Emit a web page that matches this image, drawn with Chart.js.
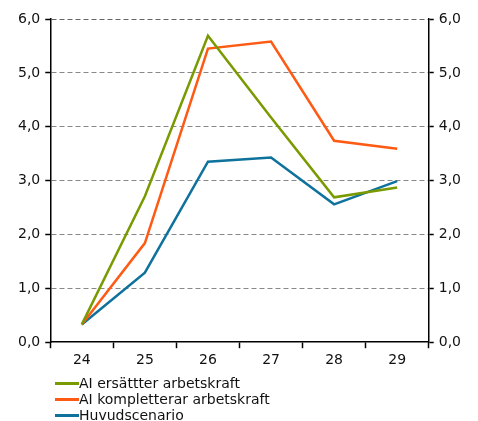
<!DOCTYPE html>
<html><head><meta charset="utf-8">
<script src="https://cdn.jsdelivr.net/npm/chart.js@4/dist/chart.umd.min.js"></script>
<style>
html,body{margin:0;padding:0;background:#fff;}
#wrap{position:relative;width:478px;height:421px;}
#c{position:absolute;left:0;top:0;}
#legend{position:absolute;left:55px;top:375px;font-family:"DejaVu Sans",Verdana,sans-serif;font-size:14px;color:#111;}
.item{display:flex;align-items:center;height:16px;}
.sw{width:24px;height:3px;margin-right:0;}
</style></head>
<body><div id="wrap"><canvas id="c" width="478" height="377"></canvas><div id="legend"></div></div>
<script>
const categories = ["24","25","26","27","28","29"];
const aiErsatter = [0.33, 2.71, 5.69, 4.17, 2.69, 2.87];
const aiKompletterar = [0.33, 1.84, 5.45, 5.58, 3.74, 3.59];
const huvudscenario = [0.33, 1.29, 3.35, 3.43, 2.56, 2.99];
const seriesNames = ["AI ersättter arbetskraft", "AI kompletterar arbetskraft", "Huvudscenario"];
const seriesColors = ["#7a9a01", "#ff5a14", "#0f729c"];
const yTicks = [0,1,2,3,4,5,6];

const font = {family: "'DejaVu Sans', Verdana, sans-serif", size: 14};
const fmt = v => v.toFixed(1).replace('.', ',');

const datasets = [aiErsatter, aiKompletterar, huvudscenario].map((d,i)=>({
  label: seriesNames[i], data: d, borderColor: seriesColors[i], backgroundColor: seriesColors[i],
  borderWidth: 2.5, pointRadius: 0, tension: 0, fill: false
}));

new Chart(document.getElementById('c'), {
  type: 'line',
  data: {labels: categories, datasets},
  options: {
    responsive: false, animation: false,
    layout: {padding: {left: 13, right: 12, top: 19, bottom: 4}},
    plugins: {legend: {display: false}, tooltip: {enabled: false}},
    scales: {
      x: {
        type: 'category', offset: true,
        grid: {offset: true, drawOnChartArea: false, drawTicks: true, tickLength: 6, tickColor: '#000', tickWidth: 1.5},
        border: {display: true, color: '#000', width: 1.5, z: 1},
        ticks: {font, color: '#111', padding: 4}
      },
      y: {
        position: 'left', min: 0, max: 6,
        afterBuildTicks: s => { s.ticks = yTicks.map(v=>({value:v})); },
        grid: {color: c => (c.tick && c.tick.value === 0) ? 'rgba(0,0,0,0)' : (c.tick && c.tick.value === 6 ? '#666' : '#888'),
               lineWidth: 1, tickColor: '#000', tickLength: 5, tickWidth: 1.5},
        border: {display: true, color: '#000', width: 1.5, dash: [5,3]},
        ticks: {font, color: '#111', padding: 5, callback: v => fmt(v)}
      },
      y2: {
        position: 'right', min: 0, max: 6,
        afterBuildTicks: s => { s.ticks = yTicks.map(v=>({value:v})); },
        grid: {drawOnChartArea: false, tickColor: '#000', tickLength: 5, tickWidth: 1.5},
        border: {display: true, color: '#000', width: 1.5},
        ticks: {font, color: '#111', padding: 5, callback: v => fmt(v)}
      }
    }
  }
});

const lg = document.getElementById('legend');
seriesNames.forEach((n,i)=>{
  const it = document.createElement('div'); it.className='item';
  const sw = document.createElement('span'); sw.className='sw'; sw.style.background=seriesColors[i];
  const t = document.createElement('span'); t.textContent = n;
  it.appendChild(sw); it.appendChild(t); lg.appendChild(it);
});
</script></body></html>
